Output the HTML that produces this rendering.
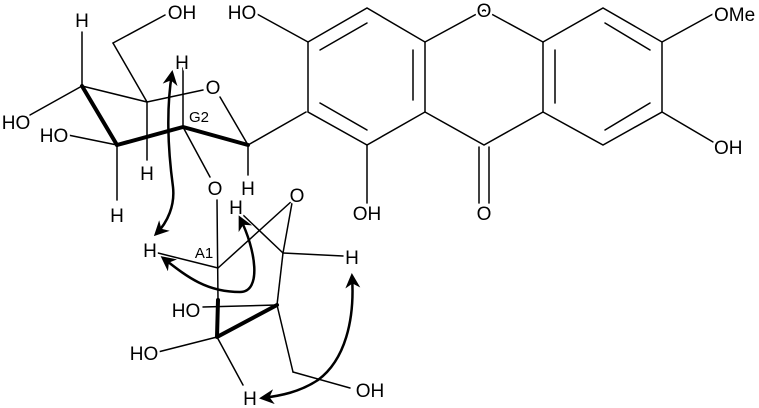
<!DOCTYPE html>
<html><head><meta charset="utf-8"><style>
html,body{margin:0;padding:0;background:#fff;}
svg{display:block;}
text{font-family:"Liberation Sans",sans-serif;font-size:19px;fill:#000;paint-order:stroke;stroke:#fff;stroke-width:5px;stroke-linejoin:round;text-anchor:middle;}
text.l{text-anchor:start;}
text.s{font-size:15px;stroke-width:3px;}
</style></head><body>
<svg width="759" height="408" viewBox="0 0 759 408" xmlns="http://www.w3.org/2000/svg">
<defs>
<marker id="ah" viewBox="0 0 10 10" refX="8" refY="5" markerWidth="6" markerHeight="6" orient="auto-start-reverse">
<path d="M0,0 L10,5 L0,10 L3,5 z" fill="#000"/></marker>
</defs>
<g stroke="#000" stroke-width="1.5" fill="none" stroke-linecap="round">
<path d="M308,42 L367,8 L425,42 L425,112 L367,145 L308,112 Z"/>
<line x1="320" y1="50" x2="367" y2="23"/>
<line x1="413" y1="50" x2="413" y2="100"/>
<line x1="320" y1="103" x2="367" y2="130"/>
<path d="M425,42 L484,10 L543,42 M543,112 L484,145 L425,112"/>
<line x1="543" y1="42" x2="543" y2="112"/>
<line x1="555" y1="50" x2="555" y2="103"/>
<line x1="479" y1="147" x2="479" y2="203"/>
<line x1="489" y1="147" x2="489" y2="203"/>
<path d="M543,42 L603,8 L662,42 L662,112 L603,145 L543,112"/>
<line x1="605" y1="23" x2="650" y2="50"/>
<line x1="605" y1="130" x2="650" y2="103"/>
<line x1="662" y1="42" x2="713" y2="14"/>
<line x1="662" y1="112" x2="713" y2="142"/>
<line x1="367" y1="145" x2="367" y2="203"/>
<line x1="257" y1="14" x2="308" y2="42"/>
<line x1="248" y1="145" x2="306" y2="112"/>
<line x1="248" y1="145" x2="220" y2="97"/>
<line x1="147" y1="102" x2="203" y2="90"/>
<line x1="147" y1="102" x2="113" y2="43"/>
<line x1="113" y1="43" x2="165" y2="15"/>
<line x1="82" y1="86" x2="147" y2="102"/>
<line x1="82" y1="86" x2="82" y2="32"/>
<line x1="82" y1="86" x2="30" y2="115"/>
<line x1="68" y1="135" x2="117" y2="145"/>
<line x1="117" y1="145" x2="117" y2="200"/>
<line x1="183" y1="127" x2="183" y2="68"/>
<line x1="147" y1="102" x2="147" y2="160"/>
<line x1="248" y1="145" x2="248" y2="175"/>
<line x1="183" y1="127" x2="210" y2="177"/>
<path d="M82,86 L117,145" stroke-width="4"/>
<path d="M117,145 L183,127 L248,145" stroke-width="4" stroke-linejoin="round"/>
<line x1="217" y1="200" x2="218" y2="300"/>
<path d="M218,300 L217,337 L277,305" stroke-width="4" stroke-linejoin="round"/>
<line x1="218" y1="268" x2="158" y2="253"/>
<line x1="218" y1="268" x2="293" y2="200"/>
<line x1="292" y1="203" x2="283" y2="253"/>
<line x1="283" y1="253" x2="343" y2="256"/>
<line x1="283" y1="253" x2="242" y2="214"/>
<line x1="283" y1="253" x2="277" y2="305"/>
<line x1="277" y1="305" x2="203" y2="307"/>
<line x1="217" y1="337" x2="158" y2="352"/>
<line x1="217" y1="337" x2="243" y2="385"/>
<line x1="277" y1="305" x2="293" y2="372"/>
<line x1="293" y1="372" x2="350" y2="388"/>
</g>
<g>
<text x="242" y="19">HO</text>
<text x="484" y="17">O</text>
<text class="l" x="714" y="21">OMe</text>
<text class="l" x="714" y="154">OH</text>
<text x="367" y="220">OH</text>
<text x="484" y="220">O</text>
<text x="182" y="19">OH</text>
<text x="82" y="27">H</text>
<text x="16" y="129">HO</text>
<text x="54" y="142">HO</text>
<text x="117" y="222">H</text>
<text x="147" y="180">H</text>
<text x="248" y="195">H</text>
<text x="182" y="69">H</text>
<text x="213" y="94">O</text>
<text x="215" y="195">O</text>
<text class="s" x="199" y="122">G2</text>
<text x="150" y="257">H</text>
<text class="s" x="204" y="258">A1</text>
<text x="297" y="202">O</text>
<text x="236" y="214">H</text>
<text x="352" y="264">H</text>
<text x="186" y="317">HO</text>
<text x="144" y="360">HO</text>
<text x="250" y="405">H</text>
<text x="370" y="397">OH</text>
</g>
<g stroke="#000" stroke-width="2.5" fill="none" marker-start="url(#ah)" marker-end="url(#ah)">
<path d="M172,73 C166,110 168,150 173,187 C175,205 168,222 156,234"/>
<path d="M163,258 C185,275 205,292 240,292 C262,292 256,250 240,218"/>
<path d="M352,276 C355,320 345,360 318,380 C300,392 280,396 262,398"/>
</g>
</svg>
</body></html>
